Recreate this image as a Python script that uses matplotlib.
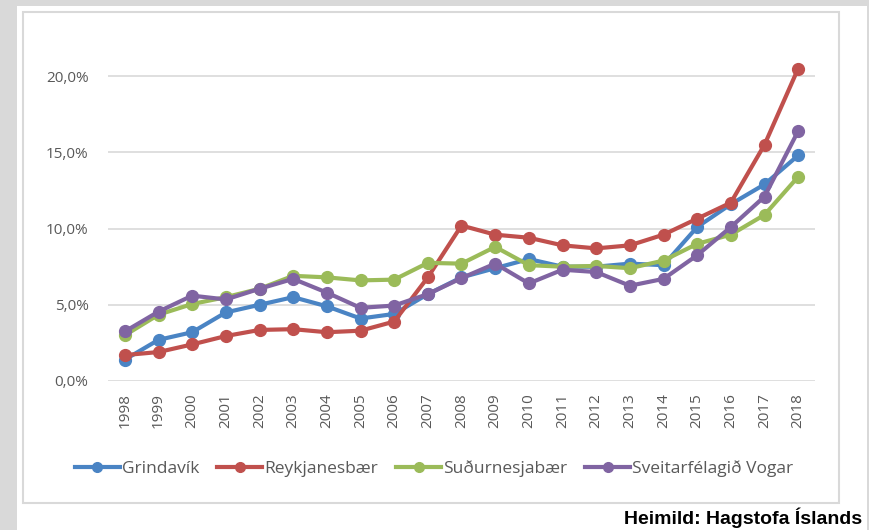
import matplotlib
matplotlib.use('Agg')
import matplotlib.pyplot as plt
from matplotlib.patches import Rectangle
from matplotlib.ticker import FuncFormatter
from matplotlib.lines import Line2D

years = [str(y) for y in range(1998, 2019)]

grindavik = [1.4, 2.7, 3.2, 4.5, 5.0, 5.5, 4.9, 4.1, 4.4, 5.7, 6.8,
             7.4, 8.0, 7.5, 7.5, 7.7, 7.6, 10.1, 11.6, 12.9, 14.8]
reykjanesbaer = [1.7, 1.9, 2.4, 2.95, 3.35, 3.4, 3.2, 3.3, 3.9, 6.8, 10.2,
                 9.6, 9.4, 8.9, 8.7, 8.9, 9.6, 10.65, 11.7, 15.5, 20.5]
sudurnesjabaer = [3.0, 4.35, 5.05, 5.5, 6.05, 6.9, 6.8, 6.6, 6.65, 7.75, 7.7,
                  8.8, 7.6, 7.5, 7.55, 7.4, 7.9, 9.0, 9.6, 10.9, 13.4]
vogar = [3.25, 4.55, 5.6, 5.35, 6.05, 6.7, 5.8, 4.8, 4.95, 5.7, 6.75,
         7.7, 6.4, 7.3, 7.15, 6.25, 6.7, 8.25, 10.1, 12.1, 16.4]

series = [('Grindavík', grindavik, '#4a84c4'),
          ('Reykjanesbær', reykjanesbaer, '#c0504d'),
          ('Suðurnesjabær', sudurnesjabaer, '#9bbb59'),
          ('Sveitarfélagið Vogar', vogar, '#8064a2')]

W, H = 869, 530
fig = plt.figure(figsize=(W / 100, H / 100), dpi=100, facecolor='#d9d9d9')

# white page and chart frame
fig.patches.append(Rectangle((17 / W, 0), (W - 17) / W, (H - 6) / H,
                             transform=fig.transFigure, facecolor='white',
                             edgecolor='none', zorder=0))
fig.patches.append(Rectangle((867 / W, 0), 2 / W, (H - 6) / H,
                             transform=fig.transFigure, facecolor='#d9d9d9',
                             edgecolor='none', zorder=0))
fig.patches.append(Rectangle((22.5 / W, 1 - 503 / H), (839 - 22.5) / W, (503 - 12) / H,
                             transform=fig.transFigure, facecolor='white',
                             edgecolor='#d9d9d9', linewidth=1.5, zorder=0))

ax = fig.add_axes([108 / W, 1 - 381 / H, 707 / W, (381 - 53.3) / H])
ax.set_facecolor('none')
ax.set_zorder(3)

x = range(len(years))
for name, vals, col in series:
    ax.plot(x, vals, color=col, linewidth=3, marker='o', markersize=8.5,
            label=name, solid_capstyle='round', clip_on=False)

ax.set_xlim(-0.5, len(years) - 0.5)
ax.set_ylim(0, 21.5)
ax.set_yticks([0, 5, 10, 15, 20])
ax.yaxis.set_major_formatter(FuncFormatter(lambda v, p: f'{v:.1f}%'.replace('.', ',')))
ax.grid(axis='y', color='#d9d9d9', linewidth=1.2)
ax.set_axisbelow(True)
ax.set_xticks(list(x))
ax.set_xticklabels(years, rotation=90)
for s in ax.spines.values():
    s.set_visible(False)
ax.tick_params(length=0, colors='#595959', labelsize=11)
ax.tick_params(axis='y', pad=14)
ax.tick_params(axis='x', pad=9)
for lab in ax.get_xticklabels() + ax.get_yticklabels():
    lab.set_family('Open Sans')

handles = [Line2D([], [], color=c, linewidth=3, marker='o', markersize=7) for _, _, c in series]
leg = fig.legend(handles, [n for n, _, _ in series], loc='center', bbox_to_anchor=(434 / W, 1 - 469 / H),
                 ncol=4, frameon=False, handlelength=2.6, handletextpad=0.1, columnspacing=1.05,
                 prop={'family': 'Open Sans', 'size': 12.5}, labelcolor='#595959')
leg.set_zorder(4)

fig.text(862 / W, 1 - 518 / H, 'Heimild: Hagstofa Íslands', ha='right', va='center',
         fontsize=14, fontweight='bold', family=['Liberation Sans Narrow', 'Liberation Sans'],
         zorder=4)

plt.savefig('out.png', dpi=100, facecolor=fig.get_facecolor())
